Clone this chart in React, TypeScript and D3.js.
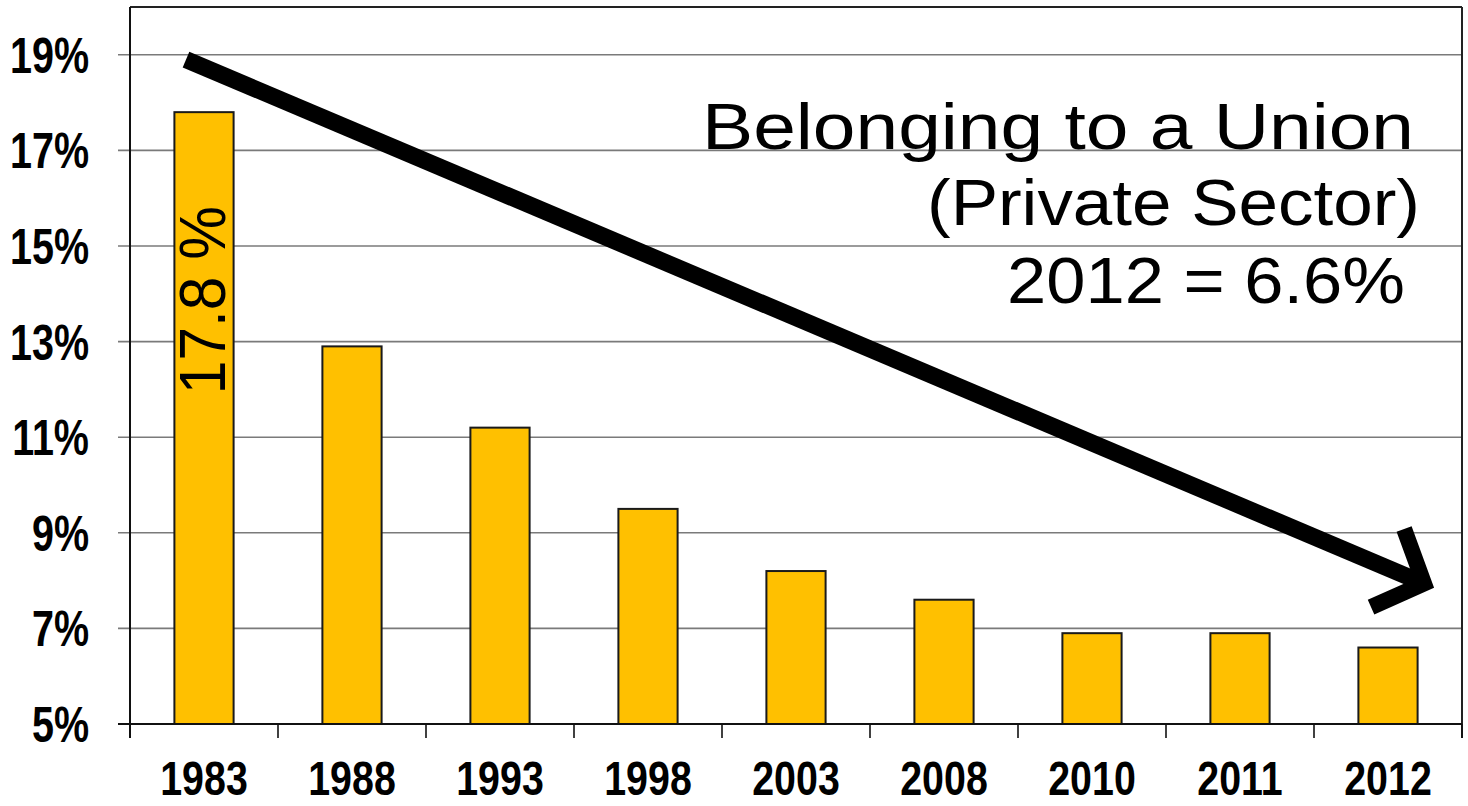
import React, { useEffect } from "react";
import * as d3 from "d3";

const CATEGORIES = ["1983", "1988", "1993", "1998", "2003", "2008", "2010", "2011", "2012"];
const VALUES = [17.8, 12.9, 11.2, 9.5, 8.2, 7.6, 6.9, 6.9, 6.6];
const Y_TICKS = [5, 7, 9, 11, 13, 15, 17, 19];
const Y_DOMAIN = [5, 20];
const TITLE_LINES = ["Belonging to a Union", "(Private Sector)", "2012 = 6.6%"];
const BAR_LABEL = "17.8 %";

const W = 1468;
const H = 806;
const M = { left: 130, right: 6, top: 7, bottom: 82 };
const FONT = "'Liberation Sans', Arial, Helvetica, sans-serif";

export default function App() {
  useEffect(() => {
    document.body.style.margin = "0";
  }, []);

  const x = d3
    .scaleBand<string>()
    .domain(CATEGORIES)
    .range([M.left, W - M.right])
    .paddingInner(0.6)
    .paddingOuter(0.3);
  const y = d3.scaleLinear().domain(Y_DOMAIN).range([H - M.bottom, M.top]);

  const x0 = M.left;
  const x1 = W - M.right;
  const yBottom = y(Y_DOMAIN[0]);
  const yTop = y(Y_DOMAIN[1]);
  const step = x.step();
  const boundaries = CATEGORIES.map((c) => (x(c) as number) - step * x.paddingOuter()).concat([x1]);

  // arrow annotation (band-relative / value coordinates)
  const aStart = { x: (x("1983") as number) + x.bandwidth() / 2 - 18, y: y(18.9) };
  const aEnd = { x: (x("2012") as number) + x.bandwidth() / 2 + 36, y: y(7.94) };
  const dx = aEnd.x - aStart.x;
  const dy = aEnd.y - aStart.y;
  const len = Math.hypot(dx, dy);
  const ux = dx / len;
  const uy = dy / len;
  const armLen = 58;
  const armAngle = (47 * Math.PI) / 180;
  const rot = (vx: number, vy: number, a: number) => [vx * Math.cos(a) - vy * Math.sin(a), vx * Math.sin(a) + vy * Math.cos(a)];
  const [b1x, b1y] = rot(-ux, -uy, armAngle);
  const [b2x, b2y] = rot(-ux, -uy, -armAngle);
  const arm1 = [aEnd.x + b1x * armLen, aEnd.y + b1y * armLen];
  const arm2 = [aEnd.x + b2x * armLen, aEnd.y + b2y * armLen];

  const titleSpecs = [
    { x0: 702, x1: 1414, y: 149 },
    { x0: 927, x1: 1420, y: 225 },
    { x0: 1007, x1: 1405, y: 303 },
  ];

  return (
    <svg width={W} height={H} style={{ display: "block", background: "#fff" }}>
      {/* gridlines */}
      {Y_TICKS.map((t) => (
        <line key={"g" + t} x1={x0 - 12} x2={x1} y1={y(t)} y2={y(t)} stroke="#7a7a7a" strokeWidth={1.6} />
      ))}
      {/* plot frame top/right */}
      <line x1={x0} x2={x1} y1={yTop} y2={yTop} stroke="#222" strokeWidth={2} />
      <line x1={x1} x2={x1} y1={yTop} y2={yBottom + 14} stroke="#222" strokeWidth={2} />

      {/* bars */}
      {CATEGORIES.map((c, i) => (
        <rect
          key={c}
          x={x(c)}
          y={y(VALUES[i])}
          width={x.bandwidth()}
          height={yBottom - y(VALUES[i])}
          fill="#FFC000"
          stroke="#1a1a1a"
          strokeWidth={2}
        />
      ))}

      {/* axes */}
      <line x1={x0} x2={x0} y1={yTop} y2={yBottom + 14} stroke="#111" strokeWidth={2} />
      <line x1={x0 - 12} x2={x1} y1={yBottom} y2={yBottom} stroke="#111" strokeWidth={2.2} />
      {boundaries.map((bx, i) => (
        <line key={"xt" + i} x1={bx} x2={bx} y1={yBottom} y2={yBottom + 14} stroke="#111" strokeWidth={1.6} />
      ))}

      {/* y tick labels */}
      {Y_TICKS.map((t) => (
        <g key={"yl" + t} transform={`translate(89, ${y(t) + 18}) scale(0.79, 1)`}>
          <text textAnchor="end" fontFamily={FONT} fontWeight="bold" fontSize={50} fill="#000">
            {t + "%"}
          </text>
        </g>
      ))}

      {/* x tick labels */}
      {CATEGORIES.map((c) => (
        <g key={"xl" + c} transform={`translate(${(x(c) as number) + x.bandwidth() / 2}, 795) scale(0.82, 1)`}>
          <text textAnchor="middle" fontFamily={FONT} fontWeight="bold" fontSize={48} fill="#000">
            {c}
          </text>
        </g>
      ))}

      {/* rotated bar label */}
      <text
        transform={`translate(${(x("1983") as number) + x.bandwidth() / 2 + 21}, ${y(11.9)}) rotate(-90)`}
        fontFamily={FONT}
        fontSize={64}
        fill="#000"
        textLength={188}
        lengthAdjust="spacingAndGlyphs"
      >
        {BAR_LABEL}
      </text>

      {/* arrow */}
      <line x1={aStart.x} y1={aStart.y} x2={aEnd.x} y2={aEnd.y} stroke="#000" strokeWidth={17} />
      <path
        d={`M${arm1[0]},${arm1[1]} L${aEnd.x},${aEnd.y} L${arm2[0]},${arm2[1]}`}
        fill="none"
        stroke="#000"
        strokeWidth={16}
        strokeLinejoin="miter"
        strokeMiterlimit={10}
      />

      {/* title text */}
      {TITLE_LINES.map((line, i) => (
        <text
          key={"t" + i}
          x={titleSpecs[i].x0}
          y={titleSpecs[i].y}
          fontFamily={FONT}
          fontSize={64}
          fill="#000"
          textLength={titleSpecs[i].x1 - titleSpecs[i].x0}
          lengthAdjust="spacingAndGlyphs"
        >
          {line}
        </text>
      ))}
    </svg>
  );
}
